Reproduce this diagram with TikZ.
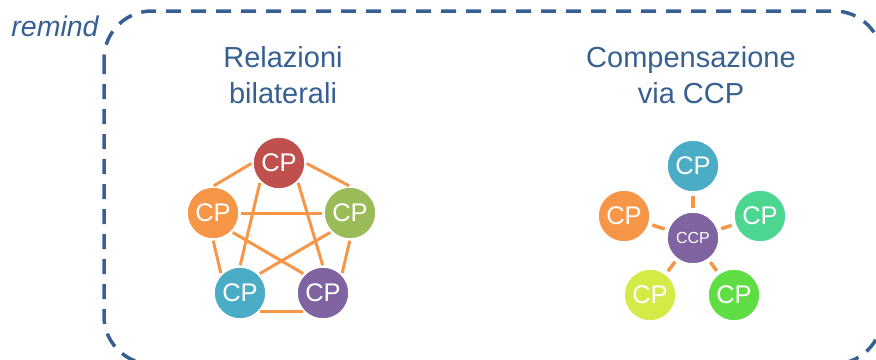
\documentclass[tikz,border=0pt]{standalone}
\usepackage{fontspec}
\setmainfont{Liberation Sans}
\usepackage{tikz}
\definecolor{RemindBlue}{RGB}{55,96,146}
\definecolor{CPRed}{RGB}{192,80,77}
\definecolor{CPOrange}{RGB}{247,150,70}
\definecolor{CPGreen}{RGB}{155,187,89}
\definecolor{CPTeal}{RGB}{75,172,198}
\definecolor{CPPurple}{RGB}{128,100,162}
\definecolor{CPMint}{RGB}{76,214,146}
\definecolor{CPLime}{RGB}{212,234,70}
\definecolor{CPLeaf}{RGB}{94,222,66}

\begin{document}
\begin{tikzpicture}[x=1pt,y=-1pt,
   cp/.style={circle,fill=#1,draw=white,line width=1.5pt,minimum size=52pt,inner sep=0pt,text=white,font=\fontsize{25.5}{25.5}\selectfont},
   link/.style={draw=CPOrange,line width=3pt},
   title/.style={text=RemindBlue,align=center,font=\fontsize{29}{36}\selectfont}]
\useasboundingbox (0,0) rectangle (876,359);
\draw[RemindBlue,line width=3.5pt,dash pattern=on 15pt off 10pt,rounded corners=48pt] (104,11) rectangle (882,364);
\node[text=RemindBlue,font=\itshape\fontsize{28.5}{28.5}\selectfont] (remind) at (55,26) {remind};
\node[title] (bilat) at (283,75) {Relazioni\\bilaterali};
\node[title] (viaccp) at (691,75) {Compensazione\\via CCP};
% bilateral: every CP linked to every other
\foreach \n/\c/\x/\y in %
{a/CPRed/279/163,b/CPOrange/213/213,c/CPGreen/350/213,d/CPTeal/240/293,e/CPPurple/323/293} {
   \node[cp=\c] (\n) at (\x,\y) {CP};
}
\foreach \s/\t in %
{a.west/b.north,a.east/c.north,b.east/c.west,a.south west/d.north,a.south east/e.north,%
b.south/d.north west,b.south east/e.north west,c.south west/d.north east,c.south/e.north east,d.south east/e.south west} {
   \draw[link,shorten <=1pt,shorten >=1pt] (\s) -- (\t);
}
% central counterparty
\node[cp=CPPurple,font=\fontsize{16}{16}\selectfont] (ccp) at (693,238) {CCP};
\foreach \n/\c/\x/\y in %
{p1/CPTeal/693/166,p2/CPOrange/624/216,p3/CPMint/760/216,p4/CPLime/650/295,p5/CPLeaf/734/295} {
   \node[cp=\c] (\n) at (\x,\y) {CP};
   \draw[link,line width=3.5pt,shorten <=3pt,shorten >=3pt] (ccp) -- (\n);
}
\end{tikzpicture}
\end{document}
